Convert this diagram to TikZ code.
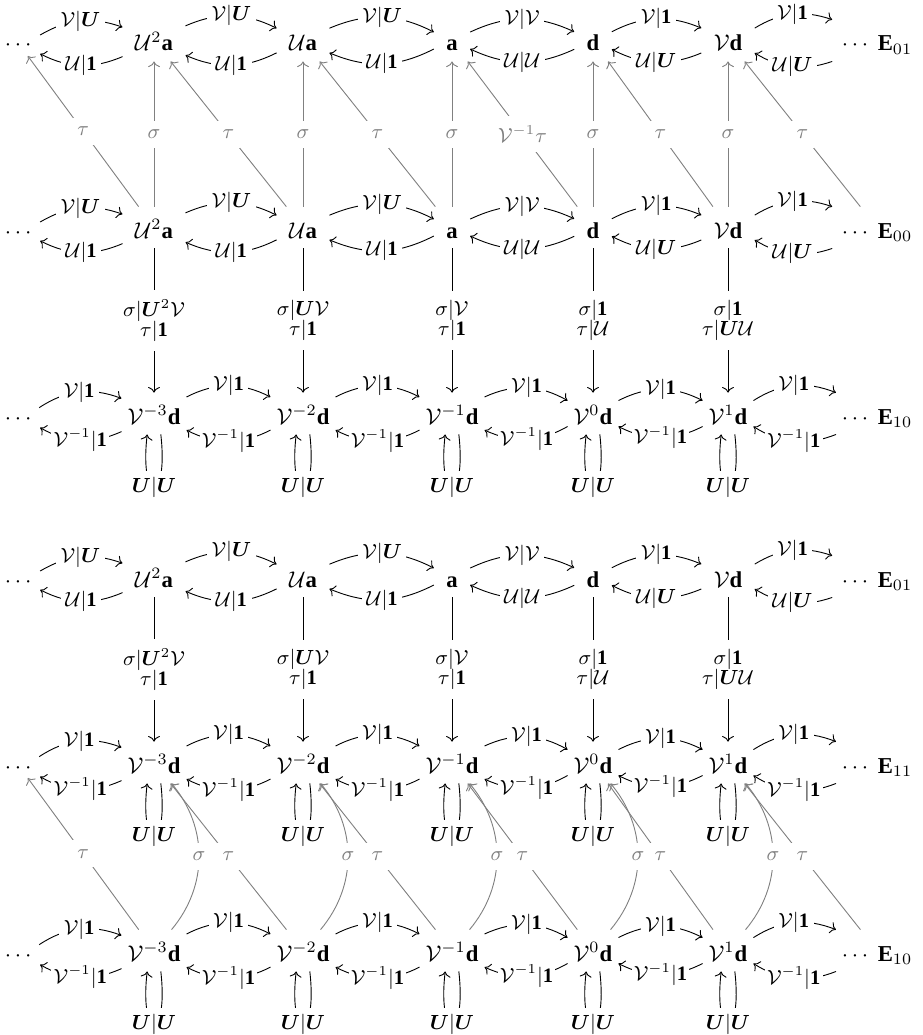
\documentclass[tikz,border=0pt]{standalone}
\usepackage{amsmath}
\usepackage{fontspec}
\setmainfont{Liberation Serif}
\usetikzlibrary{arrows.meta}

\begin{document}
\begin{tikzpicture}[x=0.44pt,y=0.44pt,
    obj/.style={anchor=base,inner xsep=5.3pt,inner ysep=4.4pt,text height=9.2pt,text depth=0pt},
    vobj/.style={obj,inner xsep=2.5pt},
    dots/.style={anchor=base,inner sep=2pt,text height=5pt,text depth=0pt},
    arr/.style={-{Computer Modern Rightarrow}},
    lab/.style={fill=white,inner xsep=2pt,inner ysep=2.5pt,font=\small},
    tightlab/.style={lab,inner xsep=1pt},
    vlab/.style={lab,align=center,inner ysep=4pt},
    garr/.style={arr,gray},
    glab/.style={lab,text=gray,inner xsep=2.5pt,inner ysep=4pt}
  ]
  \useasboundingbox (0,0) rectangle (922,-1035);

  % rows with the a and d states
  \foreach \r/\y/\e in {A/51/01,B/238/00,D/587/01}{
    \node[dots] (\r0) at (20,-\y) {$\cdots$};
    \node[obj] (\r1) at (154,-\y) {$\mathcal{U}^2\mathbf{a}$};
    \node[obj] (\r2) at (303,-\y) {$\mathcal{U}\mathbf{a}$};
    \node[obj] (\r3) at (452,-\y) {$\mathbf{a}$};
    \node[obj] (\r4) at (593,-\y) {$\mathbf{d}$};
    \node[obj] (\r5) at (728,-\y) {$\mathcal{V}\mathbf{d}$};
    \node[obj] (\r6) at (877,-\y) {$\cdots\ \mathbf{E}_{\e}$};
    \foreach \i/\j/\labT/\labB in {
        0/1/{\mathcal{V}|\boldsymbol{U}}/{\mathcal{U}|\mathbf{1}},
        1/2/{\mathcal{V}|\boldsymbol{U}}/{\mathcal{U}|\mathbf{1}},
        2/3/{\mathcal{V}|\boldsymbol{U}}/{\mathcal{U}|\mathbf{1}},
        3/4/{\mathcal{V}|\mathcal{V}}/{\mathcal{U}|\mathcal{U}},
        4/5/{\mathcal{V}|\mathbf{1}}/{\mathcal{U}|\boldsymbol{U}},
        5/6/{\mathcal{V}|\mathbf{1}}/{\mathcal{U}|\boldsymbol{U}}}{
      \draw[arr] (\r\i) to[bend left=25] node[lab]{$\labT$} (\r\j);
      \draw[arr] (\r\j) to[bend left=25] node[lab]{$\labB$} (\r\i);
    }
  }

  % rows with the V^k d states
  \foreach \r/\y/\e in {C/424/10,E/773/11,F/961/10}{
    \node[dots] (\r0) at (20,-\y) {$\cdots$};
    \foreach \i/\x/\k in {1/154/-3,2/303/-2,3/452/-1,4/593/0,5/728/1}{
      \node[vobj] (\r\i) at (\x,-\y) {$\mathcal{V}^{\k}\mathbf{d}$};
      \draw[arr] ([xshift=3pt]\r\i.south) .. controls +(8,-70) and +(-8,-70) ..
        node[lab]{$\boldsymbol{U}|\boldsymbol{U}$} ([xshift=-3pt]\r\i.south);
    }
    \node[obj] (\r6) at (877,-\y) {$\cdots\ \mathbf{E}_{\e}$};
    \foreach \i/\j in {0/1,1/2,2/3,3/4,4/5,5/6}{
      \draw[arr] (\r\i) to[bend left=27] node[lab]{$\mathcal{V}|\mathbf{1}$} (\r\j);
      \draw[arr] (\r\j) to[bend left=27] node[tightlab]{$\mathcal{V}^{-1}|\mathbf{1}$} (\r\i);
    }
  }

  % vertical maps
  \foreach \i/\labS/\labU in {
      1/{\boldsymbol{U}^2\mathcal{V}}/{\mathbf{1}},
      2/{\boldsymbol{U}\mathcal{V}}/{\mathbf{1}},
      3/{\mathcal{V}}/{\mathbf{1}},
      4/{\mathbf{1}}/{\mathcal{U}},
      5/{\mathbf{1}}/{\boldsymbol{U}\mathcal{U}}}{
    \draw[arr] (B\i) -- node[vlab]{$\sigma|\labS$\\[-2.3pt]$\tau|\labU$} (C\i);
    \draw[arr] (D\i) -- node[vlab]{$\sigma|\labS$\\[-2.3pt]$\tau|\labU$} (E\i);
  }

  % gray maps, upper block
  \foreach \i in {1,...,5}
    \draw[garr] (B\i) -- node[glab]{$\sigma$} (A\i);
  \foreach \i/\j/\labG in {1/0/\tau,2/1/\tau,3/2/\tau,4/3/{\mathcal{V}^{-1}\tau},5/4/\tau,6/5/\tau}
    \draw[garr] (B\i) -- node[glab]{$\labG$} (A\j);

  % gray maps, lower block
  \foreach \i in {1,...,5}
    \draw[garr] (F\i) to[bend right=40] node[glab]{$\sigma$} (E\i);
  \foreach \i/\j in {1/0,2/1,3/2,4/3,5/4,6/5}
    \draw[garr] (F\i) -- node[glab]{$\tau$} (E\j);
\end{tikzpicture}
\end{document}
